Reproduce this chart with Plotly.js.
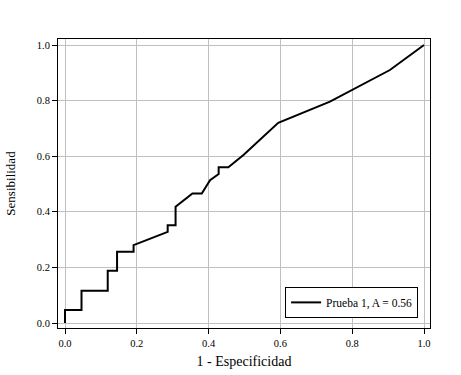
<!DOCTYPE html>
<html>
<head>
<meta charset="utf-8">
<script src="https://cdn.plot.ly/plotly-3.0.1.min.js"></script>
<style>body{margin:0;background:#fff}</style>
</head>
<body>
<div id="plot"></div>
<script>
// ROC curve points
const fpr = [0, 0, 0.046, 0.046, 0.119, 0.119, 0.145, 0.145, 0.191, 0.191, 0.286, 0.286, 0.308, 0.308,
             0.355, 0.381, 0.404, 0.428, 0.428, 0.455, 0.497, 0.594, 0.738, 0.803, 0.905, 1.0];
const tpr = [0, 0.047, 0.047, 0.116, 0.116, 0.188, 0.188, 0.256, 0.256, 0.28, 0.328, 0.352, 0.352, 0.418,
             0.466, 0.466, 0.514, 0.536, 0.56, 0.56, 0.604, 0.72, 0.796, 0.84, 0.91, 1.0];
const seriesName = 'Prueba 1, A = 0.56';
const tickVals = [0, 0.2, 0.4, 0.6, 0.8, 1.0];
const tickText = ['0.0', '0.2', '0.4', '0.6', '0.8', '1.0'];

const font = '"Liberation Serif", serif';

let roc = {
    name: seriesName,
    x: fpr,
    y: tpr,
    mode: 'lines',
    type: 'scatter',
    line: { color: '#000', width: 2 },
    showlegend: true
};

let axisCommon = {
    tickvals: tickVals,
    ticktext: tickText,
    ticks: 'outside',
    ticklen: 5,
    tickcolor: '#000',
    tickwidth: 1,
    showline: true,
    linecolor: '#000',
    linewidth: 1,
    mirror: true,
    showgrid: true,
    gridcolor: '#c0c0c0',
    gridwidth: 1,
    zeroline: false,
    tickfont: { family: font, size: 10.5, color: '#000' }
};

let layout = {
    width: 461,
    height: 375,
    margin: { l: 58, r: 31, t: 39, b: 47 },
    paper_bgcolor: '#fff',
    plot_bgcolor: '#fff',
    font: { family: font, color: '#000' },
    xaxis: Object.assign({}, axisCommon, {
        range: [-0.0195, 1.0167],
        title: { text: '1 - Especificidad', font: { family: font, size: 14, color: '#000' }, standoff: 8 }
    }),
    yaxis: Object.assign({}, axisCommon, {
        range: [-0.018, 1.0216],
        title: { text: 'Sensibilidad', font: { family: font, size: 13, color: '#000' }, standoff: 18 }
    }),
    legend: {
        x: 0.968,
        y: 0.035,
        xanchor: 'right',
        yanchor: 'bottom',
        bgcolor: '#fff',
        bordercolor: '#000',
        borderwidth: 1,
        itemwidth: 30,
        font: { family: font, size: 11.5, color: '#000' }
    }
};

Plotly.newPlot(document.getElementById('plot'), [roc], layout, { displayModeBar: false, staticPlot: true });
</script>
</body>
</html>
